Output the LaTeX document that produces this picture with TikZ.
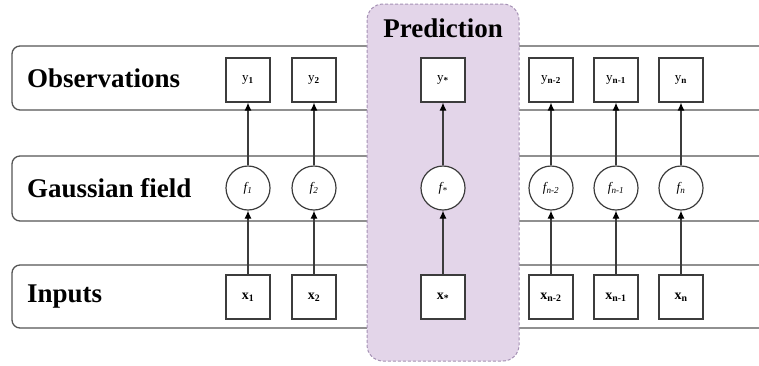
\documentclass[tikz,border=0pt]{standalone}
\usepackage{fontspec}
\setmainfont{Liberation Serif}
\usetikzlibrary{arrows.meta}
\definecolor{bandgray}{RGB}{85,85,85}
\definecolor{boxgray}{RGB}{60,60,60}
\definecolor{predfill}{RGB}{227,213,233}
\definecolor{preddraw}{RGB}{165,145,180}
\begin{document}
\begin{tikzpicture}[x=1pt,y=-1pt,
  band/.style={draw=bandgray, line width=1.3pt, rounded corners=8pt},
  bandlabel/.style={anchor=west, inner sep=0pt, font=\fontsize{27}{30}\selectfont\bfseries},
  obox/.style={draw=boxgray, fill=white, line width=1.2pt, minimum width=44pt, minimum height=44pt, inner sep=0pt, font=\fontsize{13}{15}\selectfont},
  xbox/.style={obox, font=\fontsize{14}{16}\selectfont\bfseries},
  fcirc/.style={draw=boxgray, fill=white, line width=1.2pt, circle, minimum size=44pt, inner sep=0pt, font=\fontsize{13}{15}\selectfont\itshape},
  arr/.style={draw=boxgray, line width=1.2pt, -{Latex[length=8pt,width=7pt,color=black]}},
  predbox/.style={draw=preddraw, fill=predfill, line width=1pt, densely dashed, rounded corners=16pt, minimum width=152pt, minimum height=357pt, inner sep=0pt}
]
\useasboundingbox (0,0) rectangle (759,365);
% bands
\draw[band] (780,46) -- (12,46) -- (12,110) -- (780,110);
\draw[band] (780,156) -- (12,156) -- (12,221) -- (780,221);
\draw[band] (780,265) -- (12,265) -- (12,328) -- (780,328);
\node[bandlabel] (lobs) at (27,78) {Observations};
\node[bandlabel] (lgau) at (27,188) {Gaussian field};
\node[bandlabel] (linp) at (27,297) {Inputs};
% prediction box
\node[predbox] (pred) at (443,182.5) {};
\node[inner sep=0pt, font=\fontsize{27}{30}\selectfont\bfseries] (predlabel) at (443,28) {Prediction};
% nodes
\foreach \n/\x/\ys/\fs/\xs in {1/248/1/1/1, 2/314/2/2/2, s/443/*/*/*, a/551/n-2/n-2/n-2, b/616/n-1/n-1/n-1, n/681/n/n/n}{
  \node[obox] (y\n) at (\x,80) {y\textsubscript{\textbf{\ys}}};
  \node[fcirc] (f\n) at (\x,188) {f\textsubscript{\fs}};
  \node[xbox] (x\n) at (\x,297) {x\textsubscript{\xs}};
  \draw[arr] (x\n) -- (f\n);
  \draw[arr] (f\n) -- (y\n);
}
\end{tikzpicture}
\end{document}
